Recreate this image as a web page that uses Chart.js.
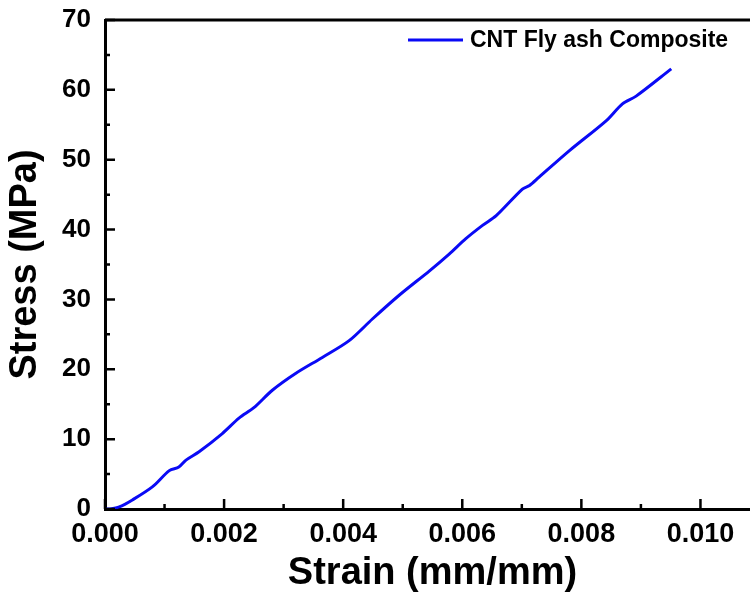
<!DOCTYPE html>
<html>
<head>
<meta charset="utf-8">
<title>Stress vs Strain</title>
<script src="https://cdn.jsdelivr.net/npm/chart.js@4.4.1/dist/chart.umd.min.js"></script>
<style>
    html, body { margin: 0; padding: 0; background: #fff; overflow: hidden; }
    #wrap { width: 770px; height: 602px; }
</style>
</head>
<body>
<div id="wrap"><canvas id="stressChart" width="770" height="602"></canvas></div>
<script>
// Data
const seriesLabel = 'CNT Fly ash Composite';
const strain = [0, 0.00007, 0.00024, 0.00046, 0.0008, 0.00108, 0.00124, 0.00136, 0.00158, 0.00197,
    0.00225, 0.0025, 0.00281, 0.0032, 0.00365, 0.0041, 0.00449, 0.00494, 0.00545, 0.00578,
    0.00606, 0.00634, 0.00657, 0.00701, 0.00713, 0.00729, 0.0078, 0.00842, 0.00869, 0.00892, 0.00951];
const stress = [0, 0, 0.3, 1.3, 3.2, 5.5, 6.0, 7.0, 8.2, 10.8,
    13.0, 14.5, 17.0, 19.4, 21.7, 24.1, 27.2, 30.6, 34.1, 36.5,
    38.7, 40.6, 42.0, 45.8, 46.3, 47.5, 51.3, 55.6, 58.0, 59.1, 63.0];
const xTickLabels = ['0.000', '0.002', '0.004', '0.006', '0.008', '0.010'];
const yTickLabels = ['0', '10', '20', '30', '40', '50', '60', '70'];

const FONT = "'Liberation Sans', Arial, sans-serif";

// Frame on top/right plus inward major and minor ticks
const frameTicks = {
    id: 'frameTicks',
    afterDraw(chart) {
        const { ctx, chartArea: a, scales: { x, y } } = chart;
        ctx.save();
        ctx.strokeStyle = '#000';
        ctx.lineWidth = 3;
        ctx.beginPath();
        ctx.moveTo(a.left, a.top);
        ctx.lineTo(a.right, a.top);
        ctx.lineTo(a.right, a.bottom);
        ctx.stroke();

        ctx.lineWidth = 2.5;
        const xt = x.ticks.map(t => t.value);
        const yt = y.ticks.map(t => t.value);
        ctx.beginPath();
        xt.forEach(v => {
            const px = x.getPixelForValue(v);
            ctx.moveTo(px, a.bottom);
            ctx.lineTo(px, a.bottom - 10);
            const mx = x.getPixelForValue(v + (xt[1] - xt[0]) / 2);
            ctx.moveTo(mx, a.bottom);
            ctx.lineTo(mx, a.bottom - 5);
        });
        yt.forEach((v, i) => {
            const py = y.getPixelForValue(v);
            ctx.moveTo(a.left, py);
            ctx.lineTo(a.left + 10, py);
            if (i < yt.length - 1) {
                const my = y.getPixelForValue(v + (yt[1] - yt[0]) / 2);
                ctx.moveTo(a.left, my);
                ctx.lineTo(a.left + 5, my);
            }
        });
        ctx.stroke();
        ctx.restore();
    }
};

// Legend drawn inside the plot area, top right
const innerLegend = {
    id: 'innerLegend',
    afterDraw(chart) {
        const { ctx, chartArea: a } = chart;
        const ds = chart.data.datasets[0];
        const y0 = a.top + 20;
        const x0 = 408;
        ctx.save();
        ctx.strokeStyle = ds.borderColor;
        ctx.lineWidth = 3;
        ctx.beginPath();
        ctx.moveTo(x0, y0);
        ctx.lineTo(x0 + 55, y0);
        ctx.stroke();
        ctx.fillStyle = '#000';
        ctx.font = 'bold 23px ' + FONT;
        ctx.textBaseline = 'middle';
        ctx.fillText(ds.label, x0 + 62, y0 + 1);
        ctx.restore();
    }
};

function initChart() {
    const ctx = document.getElementById('stressChart').getContext('2d');
    new Chart(ctx, {
        type: 'line',
        data: {
            datasets: [{
                label: seriesLabel,
                data: strain.map((s, i) => ({ x: s, y: stress[i] })),
                borderColor: '#0a0af5',
                borderWidth: 3,
                pointRadius: 0,
                tension: 0.3,
                fill: false
            }]
        },
        options: {
            responsive: false,
            animation: false,
            layout: { padding: { top: 20, right: 10, left: 0, bottom: 0 } },
            scales: {
                x: {
                    type: 'linear',
                    min: 0,
                    max: 0.011,
                    grid: { display: false, drawTicks: false },
                    border: { display: true, color: '#000', width: 3 },
                    ticks: {
                        stepSize: 0.002,
                        includeBounds: false,
                        autoSkip: false,
                        maxRotation: 0,
                        padding: 9,
                        color: '#000',
                        font: { family: FONT, size: 27, weight: 'bold' },
                        callback: (v, i) => xTickLabels[i]
                    },
                    title: {
                        display: true,
                        text: 'Strain (mm/mm)',
                        color: '#000',
                        font: { family: FONT, size: 38, weight: 'bold' },
                        padding: { top: 0, bottom: 6 }
                    },
                    afterFit: s => {
                        s.height = 93;
                        s.paddingLeft = 0;
                        s.paddingRight = 0;
                    }
                },
                y: {
                    min: 0,
                    max: 70,
                    grid: { display: false, drawTicks: false },
                    border: { display: true, color: '#000', width: 3 },
                    ticks: {
                        stepSize: 10,
                        autoSkip: false,
                        padding: 14,
                        color: '#000',
                        font: { family: FONT, size: 26, weight: 'bold' },
                        callback: (v, i) => yTickLabels[i]
                    },
                    title: {
                        display: true,
                        text: 'Stress (MPa)',
                        color: '#000',
                        font: { family: FONT, size: 38, weight: 'bold' },
                        padding: { top: 3, bottom: 0 }
                    },
                    afterFit: s => {
                        s.width = 105;
                        s.paddingTop = 0;
                        s.paddingBottom = 0;
                    }
                }
            },
            plugins: {
                legend: { display: false },
                tooltip: { enabled: false }
            }
        },
        plugins: [frameTicks, innerLegend]
    });
}

document.addEventListener('DOMContentLoaded', initChart);
</script>
</body>
</html>
